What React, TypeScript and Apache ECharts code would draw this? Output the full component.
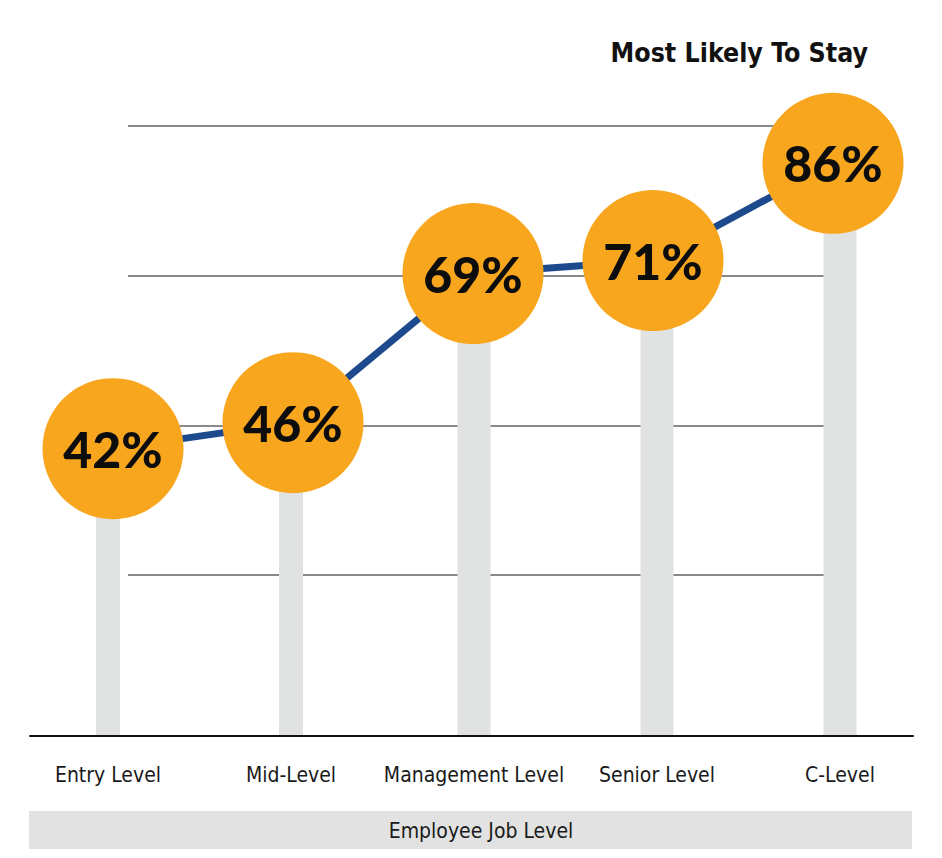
import React, { useEffect, useRef } from "react";
import * as echarts from "echarts";

const categories = ["Entry Level", "Mid-Level", "Management Level", "Senior Level", "C-Level"];
const values = [42, 46, 69, 71, 86];
const narrowBars = [42, 46, "-", "-", "-"];
const wideBars = ["-", "-", 69, 71, 86];
const titleText = "Most Likely To Stay";
const axisTitle = "Employee Job Level";
const gridLevelMin = 1;
const gridLevelMax = 4;

const condensed = "'DejaVu Sans Condensed', 'Liberation Sans Narrow', sans-serif";

export default function App() {
  const ref = useRef<HTMLDivElement>(null);
  useEffect(() => {
    document.body.style.margin = "0";
    const chart = echarts.init(ref.current!, null, { renderer: "svg" });
    chart.setOption({
      animation: false,
      backgroundColor: "#ffffff",
      title: {
        text: titleText,
        right: 69,
        top: 34,
        textStyle: { fontFamily: condensed, fontWeight: "bold", fontSize: 26.5, color: "#111111" },
      },
      grid: [
        { left: 16.5, right: 10.5, top: 66, bottom: 123 },
        { left: 128, right: 116, top: 126, bottom: 283 },
        { left: 30, right: 29, top: 700, bottom: 122 },
        { left: 23, right: 19, top: 72.5, bottom: 137 },
      ],
      xAxis: [
        {
          gridIndex: 0,
          type: "category",
          data: categories,
          axisLine: { show: false },
          axisTick: { show: false },
          axisLabel: {
            interval: 0,
            fontFamily: condensed,
            fontSize: 21,
            color: "#1a1a1a",
            margin: 29,
          },
        },
        { gridIndex: 1, type: "value", show: false },
        {
          gridIndex: 2,
          type: "category",
          data: [""],
          axisLine: { show: true, lineStyle: { color: "#111111", width: 2 } },
          axisTick: { show: false },
          axisLabel: { show: false },
        },
        { gridIndex: 0, type: "category", data: categories, show: false },
        { gridIndex: 3, type: "category", data: categories, show: false },
      ],
      yAxis: [
        { gridIndex: 0, type: "value", min: 0, max: 100, show: false },
        {
          gridIndex: 1,
          type: "value",
          min: gridLevelMin,
          max: gridLevelMax,
          interval: 1,
          axisLine: { show: false },
          axisTick: { show: false },
          axisLabel: { show: false },
          splitLine: { show: true, lineStyle: { color: "#8a8a8a", width: 2 } },
        },
        { gridIndex: 2, type: "value", show: false },
        { gridIndex: 3, type: "value", min: 0, max: 100, show: false },
      ],
      graphic: [
        {
          type: "rect",
          shape: { x: 29, y: 811, width: 883, height: 38 },
          style: { fill: "#e1e2e1" },
          z: 0,
        },
        {
          type: "text",
          x: 481,
          y: 831,
          style: {
            text: axisTitle,
            fontFamily: condensed,
            fontSize: 21,
            fill: "#1a1a1a",
            textAlign: "center",
            textVerticalAlign: "middle",
          },
          z: 1,
        },
      ],
      series: [
        {
          type: "bar",
          xAxisIndex: 0,
          yAxisIndex: 0,
          data: narrowBars,
          barWidth: 24,
          itemStyle: { color: "#e1e3e2" },
          z: 2,
        },
        {
          type: "bar",
          xAxisIndex: 3,
          yAxisIndex: 0,
          data: wideBars,
          barWidth: 33,
          itemStyle: { color: "#e1e3e2" },
          z: 2,
        },
        {
          type: "line",
          xAxisIndex: 4,
          yAxisIndex: 3,
          data: values,
          symbol: "circle",
          symbolSize: 141,
          showAllSymbol: true,
          lineStyle: { color: "#1d4a8c", width: 7 },
          itemStyle: { color: "#f9a61f" },
          label: {
            show: true,
            position: "inside",
            formatter: "{c}%",
            fontFamily: "Lato, 'Noto Sans', sans-serif",
            fontWeight: 900,
            fontSize: 50,
            color: "#0d0d0d",
          },
          labelLayout: { hideOverlap: false },
          z: 3,
        },
      ],
    });
    return () => chart.dispose();
  }, []);
  return <div ref={ref} style={{ width: 942, height: 858 }} />;
}
